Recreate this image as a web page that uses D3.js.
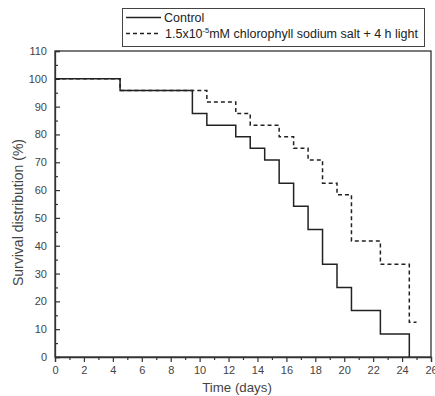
<!DOCTYPE html>
<html><head><meta charset="utf-8">
<script src="https://cdn.jsdelivr.net/npm/d3@7"></script>
<style>body{margin:0;background:#fff}svg{display:block}</style>
</head><body>
<script>
const controlDays = [0, 4.5, 9.5, 10.5, 12.5, 13.5, 14.5, 15.5, 16.5, 17.5, 18.5, 19.5, 20.5, 22.5, 24.5];
const controlSurvival = [100, 95.8, 87.5, 83.3, 79.2, 75, 70.8, 62.5, 54.2, 45.8, 33.3, 25, 16.7, 8.3, 0];
const treatedDays = [0, 4.5, 10.5, 12.5, 13.5, 15.5, 16.5, 17.5, 18.5, 19.5, 20.5, 22.5, 24.5, 25];
const treatedSurvival = [100, 95.8, 91.7, 87.5, 83.3, 79.2, 75, 70.8, 62.5, 58.3, 41.7, 33.3, 12.5, 12.5];
const xTicks = d3.range(0, 27, 2);
const yTicks = d3.range(0, 111, 10);
const seriesNames = ["Control", "1.5x10", "-5", "mM chlorophyll sodium salt + 4 h light"];

const W = 435, H = 396;
const L = 55, R = 431, T = 51, B = 357;
const svg = d3.select("body").append("svg").attr("width", W).attr("height", H)
  .style("font-family", "'Liberation Sans', Arial, sans-serif");

const x = d3.scaleLinear().domain([0, 26]).range([L, R]);
const y = d3.scaleLinear().domain([0, 110]).range([B, T]);
const axisCol = "#333", textCol = "#444", lineCol = "#222";

// frame
svg.append("rect").attr("x", L).attr("y", T).attr("width", R - L).attr("height", B - T)
  .attr("fill", "none").attr("stroke", axisCol).attr("stroke-width", 1.3);

// x axis
svg.append("g").attr("transform", `translate(0,${B})`)
  .call(d3.axisBottom(x).tickValues(xTicks).tickSize(5).tickPadding(4).tickFormat(d3.format("d")));
svg.append("g").attr("transform", `translate(0,${B})`)
  .call(d3.axisBottom(x).tickValues(d3.range(1, 26, 2)).tickSize(3).tickFormat(""))
  .call(g => g.select(".domain").remove());
// y axis (ticks inward)
svg.append("g").attr("transform", `translate(${L},0)`)
  .call(d3.axisLeft(y).tickValues(yTicks).tickSize(-5).tickPadding(8).tickFormat(d3.format("d")));
svg.append("g").attr("transform", `translate(${L},0)`)
  .call(d3.axisLeft(y).tickValues(d3.range(5, 110, 10)).tickSize(-3).tickFormat(""))
  .call(g => g.select(".domain").remove());

svg.selectAll(".domain").attr("stroke", axisCol).attr("stroke-width", 1.3);
svg.selectAll(".tick line").attr("stroke", axisCol).attr("stroke-width", 1.2);
svg.selectAll(".tick text").attr("fill", textCol).attr("font-size", 11)
  .attr("font-family", "'Liberation Sans', Arial, sans-serif");

// axis titles
svg.append("text").attr("x", 237).attr("y", 392).attr("text-anchor", "middle")
  .attr("font-size", 13.3).attr("fill", textCol).text("Time (days)");
svg.append("text").attr("transform", `translate(23,212.5) rotate(-90)`)
  .attr("text-anchor", "middle").attr("font-size", 14).attr("fill", textCol)
  .text("Survival distribution (%)");

// lines
const line = d3.line().x(d => x(d[0])).y(d => y(d[1])).curve(d3.curveStepAfter);
svg.append("path").datum(d3.zip(treatedDays, treatedSurvival)).attr("d", line)
  .attr("fill", "none").attr("stroke", lineCol).attr("stroke-width", 1.5).attr("stroke-dasharray", "4,3");
svg.append("path").datum(d3.zip(controlDays, controlSurvival)).attr("d", line)
  .attr("fill", "none").attr("stroke", lineCol).attr("stroke-width", 1.5);

// legend
const lg = svg.append("g");
lg.append("rect").attr("x", 122.5).attr("y", 8.5).attr("width", 302).attr("height", 38)
  .attr("fill", "#fff").attr("stroke", "#444").attr("stroke-width", 1);
lg.append("line").attr("x1", 126).attr("x2", 161).attr("y1", 17.5).attr("y2", 17.5)
  .attr("stroke", lineCol).attr("stroke-width", 1.5);
lg.append("line").attr("x1", 126).attr("x2", 160).attr("y1", 33.5).attr("y2", 33.5)
  .attr("stroke", lineCol).attr("stroke-width", 1.5).attr("stroke-dasharray", "4,3");
lg.append("text").attr("x", 164).attr("y", 22).attr("font-size", 12.5).attr("fill", "#222").text(seriesNames[0]);
const t2 = lg.append("text").attr("x", 165).attr("y", 38).attr("font-size", 12.5).attr("fill", "#222");
t2.append("tspan").text(seriesNames[1]);
t2.append("tspan").attr("dy", -5).attr("font-size", 7.5).text(seriesNames[2]);
t2.append("tspan").attr("dy", 5).text(seriesNames[3]);
</script>
</body></html>
